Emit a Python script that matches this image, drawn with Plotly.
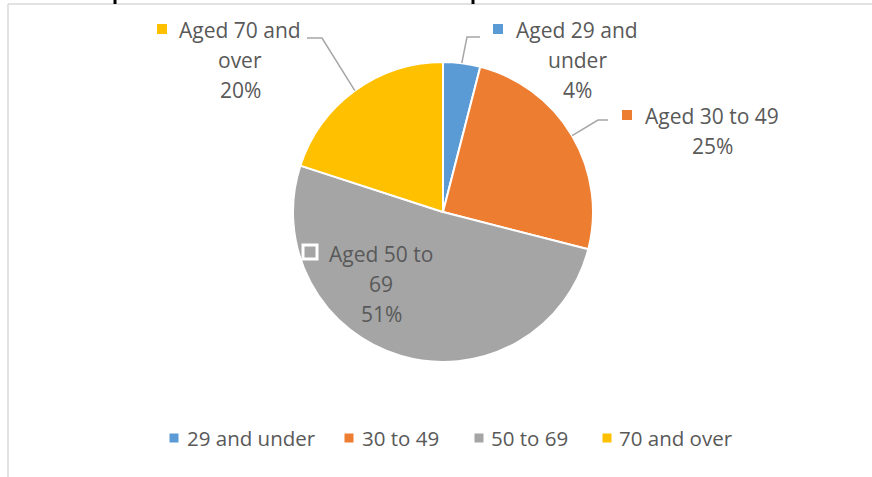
import math
import plotly.graph_objects as go

W, H = 872, 477

# ---- data ----
categories = ["29 and under", "30 to 49", "50 to 69", "70 and over"]
values = [4, 25, 51, 20]
label_lines = [["Aged 29 and", "under"], ["Aged 30 to 49"], ["Aged 50 to", "69"], ["Aged 70 and", "over"]]
colors = ["#5b9bd5", "#ed7d31", "#a5a5a5", "#ffc000"]

# ---- layout constants (pixels) ----
CX, CY, R = 443, 212, 150
FONT = "Open Sans"
TXT = "#595959"
FS = 21
FS_LEG = 20.5
# label block: (centre x, first line y, square x, square y)
label_pos = [(577, 30, 498, 29), (712, 116, 627, 115), (381, 254, 310, 252), (240, 30, 162, 29)]
# leader elbows (elbow point, end point) or None for inside label
leaders = [((467, 37), (480, 37)), ((598, 120), (608, 120)), None, ((322, 38), (307, 38))]
legend_sq_x = [174, 349, 479, 607]
legend_tx_x = [185, 360, 489, 617]
LEG_Y = 438
LINE_H = 30


def px(x):
    return x / W


def py(y):
    return 1 - y / H


fig = go.Figure(go.Pie(
    labels=categories, values=values, sort=False, direction="clockwise", rotation=0,
    marker=dict(colors=colors, line=dict(color="white", width=2)),
    textinfo="none", hoverinfo="label+percent", showlegend=False,
    domain=dict(x=[px(CX - R), px(CX + R)], y=[py(CY + R), py(CY - R)]),
))

annotations = []
shapes = []
total = sum(values)
cum = 0
for i, v in enumerate(values):
    mid = (cum + v / 2) / total * 2 * math.pi
    cum += v
    ex, ey = CX + R * math.sin(mid), CY - R * math.cos(mid)
    cxl, y0, sqx, sqy = label_pos[i]
    lines = label_lines[i] + [f"{round(v / total * 100)}%"]
    for k, t in enumerate(lines):
        annotations.append(dict(x=px(cxl), y=py(y0 + k * LINE_H), xref="paper", yref="paper",
                                text=t, showarrow=False, xanchor="center", yanchor="middle",
                                font=dict(family=FONT, size=FS, color=TXT)))
    if leaders[i] is None:
        s = 7
        shapes.append(dict(type="rect", xref="paper", yref="paper",
                           x0=px(sqx - s), x1=px(sqx + s), y0=py(sqy + s), y1=py(sqy - s),
                           fillcolor=colors[i], line=dict(color="white", width=3)))
    else:
        s = 5
        shapes.append(dict(type="rect", xref="paper", yref="paper",
                           x0=px(sqx - s), x1=px(sqx + s), y0=py(sqy + s), y1=py(sqy - s),
                           fillcolor=colors[i], line=dict(width=0)))
        (bx, by), (fx, fy) = leaders[i]
        shapes.append(dict(type="path", xref="paper", yref="paper",
                           path=f"M {px(ex)} {py(ey)} L {px(bx)} {py(by)} L {px(fx)} {py(fy)}",
                           line=dict(color="#a6a6a6", width=1.5)))

# legend (manual, Excel style)
for i, c in enumerate(categories):
    s = 4.5
    shapes.append(dict(type="rect", xref="paper", yref="paper",
                       x0=px(legend_sq_x[i] - s), x1=px(legend_sq_x[i] + s),
                       y0=py(LEG_Y + s), y1=py(LEG_Y - s), fillcolor=colors[i], line=dict(width=0)))
    annotations.append(dict(x=px(legend_tx_x[i]), y=py(LEG_Y), xref="paper", yref="paper",
                            text=c, showarrow=False, xanchor="left", yanchor="middle",
                            font=dict(family=FONT, size=FS_LEG, color=TXT)))

# chart border (top & left visible)
shapes.append(dict(type="line", xref="paper", yref="paper", x0=px(8), x1=1, y0=py(4), y1=py(4),
                   line=dict(color="#d9d9d9", width=1.5)))
shapes.append(dict(type="line", xref="paper", yref="paper", x0=px(8), x1=px(8), y0=py(4), y1=0,
                   line=dict(color="#d9d9d9", width=1.5)))
# clipped title glyph remnants above the chart
for gx in (115, 473):
    shapes.append(dict(type="rect", xref="paper", yref="paper", x0=px(gx - 1.5), x1=px(gx + 1.5),
                       y0=py(4), y1=1, fillcolor="black", line=dict(width=0)))

fig.update_layout(width=W, height=H, margin=dict(l=0, r=0, t=0, b=0),
                  paper_bgcolor="white", plot_bgcolor="white",
                  annotations=annotations, shapes=shapes)
fig.write_html("out.html", config={"displayModeBar": False},
               post_script="document.body.style.margin='0';document.body.style.overflow='hidden';")
